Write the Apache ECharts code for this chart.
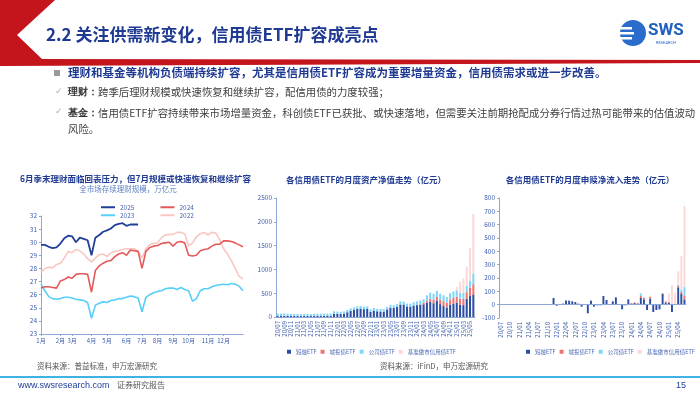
<!DOCTYPE html>
<html>
<head>
<meta charset="utf-8">
<script src="https://cdn.jsdelivr.net/npm/echarts@6/dist/echarts.min.js"></script>
<style>
  html, body { margin: 0; padding: 0; background: #fff; }
  #slide { width: 700px; height: 394px; }
</style>
</head>
<body>
<div id="slide"></div>
<script>
// 左图：全市场存续理财规模（万亿元），按周
var monthNames = ['1月', '2月', '3月', '4月', '5月', '6月', '7月', '8月', '9月', '10月', '11月', '12月']
var monthStartWeek = [0, 5, 8, 13, 17, 22, 26, 30, 34, 38, 43, 47]
var wealth2025 = [29.8, 29.8, 29.65, 29.55, 29.6, 29.9, 30.3, 30.5, 30.45, 30.0, 30.35, 30.25, 30.15, 29.0, 30.35, 30.55, 30.8, 30.9, 31.05, 31.3, 31.4, 31.45, 31.25, 31.35, 31.35, 31.35]
var wealth2024 = [26.5, 26.6, 26.6, 26.55, 26.5, 27.05, 27.15, 27.35, 27.25, 27.55, 27.6, 27.6, 27.55, 26.2, 27.85, 28.2, 28.4, 28.55, 28.6, 28.9, 29.1, 29.2, 29.0, 29.4, 29.35, 29.3, 28.0, 29.3, 29.6, 29.7, 29.75, 29.9, 29.95, 30.0, 29.7, 30.0, 30.05, 29.95, 29.0, 28.95, 29.0, 29.35, 29.45, 29.5, 29.7, 29.85, 29.85, 30.1, 30.1, 30.05, 29.95, 29.8, 29.65]
var wealth2023 = [26.8, 26.3, 25.85, 25.7, 25.65, 25.7, 25.8, 25.8, 25.75, 25.65, 25.6, 25.55, 25.4, 24.2, 25.2, 25.35, 25.45, 25.4, 25.55, 25.6, 25.7, 25.7, 25.8, 25.9, 25.85, 25.75, 24.7, 25.8, 26.0, 26.15, 26.25, 26.3, 26.45, 26.5, 26.5, 26.4, 26.55, 26.4, 26.3, 25.5, 25.7, 26.3, 26.45, 26.45, 26.6, 26.7, 26.75, 26.8, 26.75, 26.85, 26.8, 26.65, 26.3]
var wealth2022 = [27.7, 28.0, 28.1, 28.05, 28.3, 28.4, 28.8, 29.3, 29.2, 29.45, 29.35, 29.1, 28.75, 28.5, 28.8, 29.05, 29.1, 28.9, 29.2, 29.3, 29.35, 29.45, 29.5, 29.5, 29.5, 29.3, 28.8, 29.5, 29.8, 29.9, 29.95, 30.35, 30.55, 30.6, 30.6, 30.75, 30.75, 30.65, 29.7, 29.95, 30.4, 30.65, 30.75, 30.55, 30.75, 30.7, 30.2, 29.5, 29.1, 28.6, 28.0, 27.4, 27.2]

// 中图：各信用债ETF月度资产净值（亿元），20/07-25/06
var navShort = [20, 22, 25, 25, 22, 20, 20, 20, 20, 22, 22, 25, 25, 25, 25, 28, 28, 70, 65, 62, 70, 100, 130, 150, 170, 178, 165, 168, 105, 135, 120, 115, 112, 160, 195, 192, 212, 262, 262, 222, 220, 240, 250, 258, 268, 300, 320, 290, 340, 270, 230, 200, 260, 280, 300, 260, 250, 380, 440, 475]
var navCity = [0, 0, 0, 0, 0, 0, 0, 0, 0, 0, 0, 0, 0, 0, 0, 0, 0, 0, 0, 0, 0, 0, 0, 0, 0, 0, 0, 0, 0, 0, 0, 0, 0, 0, 0, 0, 0, 0, 0, 0, 0, 0, 5, 10, 25, 45, 60, 70, 80, 90, 100, 100, 110, 120, 130, 125, 130, 140, 180, 215]
var navCorp = [50, 50, 48, 45, 45, 45, 42, 42, 42, 42, 43, 43, 45, 45, 45, 45, 45, 50, 48, 48, 48, 48, 50, 52, 55, 55, 55, 55, 55, 55, 52, 52, 52, 52, 55, 55, 58, 65, 62, 60, 60, 70, 75, 80, 80, 110, 130, 130, 130, 130, 125, 120, 130, 135, 130, 120, 125, 130, 140, 225]
var navBench = [0, 0, 0, 0, 0, 0, 0, 0, 0, 0, 0, 0, 0, 0, 0, 0, 0, 0, 0, 0, 0, 0, 0, 0, 0, 0, 0, 0, 0, 0, 0, 0, 0, 0, 0, 0, 0, 0, 0, 0, 0, 0, 0, 0, 0, 0, 0, 0, 0, 0, 0, 0, 0, 0, 70, 235, 305, 406, 683, 1253]

// 右图：各信用债ETF月度申赎净流入（亿元）
var flowShort = [3, 1, 2, -1, 0, 1, 0, 0, 1, 0, 2, 1, 1, 0, 1, 2, 1, 50, -8, -2, 8, 32, 30, 25, 20, 8, -15, 5, -65, 30, -15, -5, -5, 65, 35, 5, 25, 55, 5, -35, -5, 40, 8, 12, 8, 50, 40, -40, 45, -55, -40, -35, 80, 15, 15, -55, 5, 130, 80, 40]
var flowCity = [0, 0, 0, 0, 0, 0, 0, 0, 0, 0, 0, 0, 0, 0, 0, 0, 0, 0, 0, 0, 0, 0, 0, 0, 0, 0, 0, 0, 0, 0, 0, 0, 0, 0, 0, 0, 0, 0, 0, 0, 0, 0, 5, 5, 5, 15, 10, 0, 15, 0, 0, 0, 5, 10, 5, 0, 0, 10, 15, 30]
var flowCorp = [0, 0, 0, 0, 0, 0, 0, 0, 0, 0, 0, 0, 0, 0, 0, 0, 0, 0, 0, 0, 0, 0, 0, 0, 0, 0, 0, 0, 0, 0, 0, 0, 0, 0, 0, 0, 0, 0, 0, 0, 0, 0, 0, 0, 0, 20, 5, 0, 0, 0, 0, 0, 0, 0, 0, 0, 0, 10, 20, 65]
var flowBench = [0, 0, 0, 0, 0, 0, 0, 0, 0, 0, 0, 0, 0, 0, 0, 0, 0, 0, 0, 0, 0, 0, 0, 0, 0, 0, 0, 0, 0, 0, 0, 0, 0, 0, 0, 0, 0, 0, 0, 0, 0, 0, 0, 0, 0, 0, 0, 0, 0, 0, 0, 0, 0, 0, 65, 145, 85, 100, 250, 605]

var etfNames = ['短融ETF', '城投债ETF', '公司债ETF', '基准做市信用债ETF']
var etfColors = ['#2c4ea3', '#ec7474', '#7fd6f7', '#fcd9d9']

// 类目
var weeks = []
for (var w = 0; w <= 52; w++) weeks.push('W' + w)
var monthLabel = {}
monthStartWeek.forEach(function (w, i) { monthLabel[w] = monthNames[i] })
var months = []
for (var y = 2020, m = 7; months.length < 60; m++) {
  if (m > 12) { m = 1; y++ }
  months.push(String(y).slice(2) + '/' + (m < 10 ? '0' + m : m))
}

var blue = '#1f3a93'
var axisBlue = '#3b5bab'
var axisLineColor = '#8fa6d8'
var font = '"Noto Sans CJK SC", "Noto Sans", sans-serif'

var chart = echarts.init(document.getElementById('slide'))

function etfSeries(arrs, xi, yi) {
  return arrs.map(function (arr, i) {
    return {
      name: etfNames[i],
      type: 'bar',
      stack: 'etf' + xi,
      xAxisIndex: xi,
      yAxisIndex: yi,
      barWidth: '62%',
      itemStyle: { color: etfColors[i] },
      data: arr
    }
  })
}

function catAxis(gridIndex, interval) {
  return {
    type: 'category',
    gridIndex: gridIndex,
    data: months,
    axisLine: { lineStyle: { color: axisLineColor } },
    axisTick: { show: false },
    axisLabel: { rotate: 90, interval: interval, fontSize: 6, color: axisBlue, margin: 4 }
  }
}

function valAxis(gridIndex, min, max, interval) {
  return {
    type: 'value',
    gridIndex: gridIndex,
    min: min,
    max: max,
    interval: interval,
    axisLine: { show: true, lineStyle: { color: axisLineColor } },
    axisTick: { show: true, length: 2, lineStyle: { color: axisLineColor } },
    splitLine: { show: false },
    axisLabel: { fontSize: 6.5, color: axisBlue, margin: 4, formatter: function (v) { return String(v) } }
  }
}

var series = [
  { name: '2022', type: 'line', data: wealth2022, color: '#f9c6c2', lineStyle: { width: 1.6 } },
  { name: '2023', type: 'line', data: wealth2023, color: '#57cff6', lineStyle: { width: 1.6 } },
  { name: '2024', type: 'line', data: wealth2024, color: '#e45a5a', lineStyle: { width: 1.6 } },
  { name: '2025', type: 'line', data: wealth2025, color: '#1f3f99', lineStyle: { width: 1.8 } }
].map(function (s) {
  s.xAxisIndex = 0
  s.yAxisIndex = 0
  s.showSymbol = false
  return s
})
series = series.concat(etfSeries([navShort, navCity, navCorp, navBench], 1, 1))
series = series.concat(etfSeries([flowShort, flowCity, flowCorp, flowBench], 2, 2))
// 零轴线
series[series.length - 1].markLine = {
  silent: true,
  symbol: 'none',
  label: { show: false },
  lineStyle: { color: axisLineColor, type: 'solid', width: 1 },
  data: [{ yAxis: 0 }]
}

var etfLegendText = { fontSize: 5.5, color: '#4a66b0' }
var yearLegendText = { fontSize: 6.5, color: '#4a66b0' }

var option = {
  animation: false,
  textStyle: { fontFamily: font },
  grid: [
    { left: 41, top: 216, width: 202, height: 118 },
    { left: 276, top: 198, width: 199, height: 119 },
    { left: 499, top: 198, width: 187, height: 120 }
  ],
  xAxis: [
    {
      type: 'category',
      gridIndex: 0,
      data: weeks,
      boundaryGap: false,
      axisLine: { lineStyle: { color: axisLineColor } },
      axisTick: { show: true, length: 2, interval: function (i) { return monthLabel[i] !== undefined } },
      axisLabel: {
        fontSize: 6,
        color: axisBlue,
        margin: 4,
        interval: function (i) { return monthLabel[i] !== undefined },
        formatter: function (v, i) { return monthLabel[i] || '' }
      }
    },
    catAxis(1, 1),
    catAxis(2, 2)
  ],
  yAxis: [
    valAxis(0, 23, 32, 1),
    valAxis(1, 0, 2500, 500),
    valAxis(2, -100, 800, 100)
  ],
  legend: [
    {
      data: ['2025', '2024'], left: 101, top: 204, itemWidth: 14, itemHeight: 2, itemGap: 26, icon: 'rect',
      padding: 0, textStyle: yearLegendText
    },
    {
      data: ['2023', '2022'], left: 101, top: 212, itemWidth: 14, itemHeight: 2, itemGap: 26, icon: 'rect',
      padding: 0, textStyle: yearLegendText
    },
    {
      data: etfNames, left: 287, top: 349, itemWidth: 4, itemHeight: 4, itemGap: 4, icon: 'rect',
      padding: 0, textStyle: etfLegendText
    },
    {
      data: etfNames, left: 526, top: 349, itemWidth: 4, itemHeight: 4, itemGap: 4, icon: 'rect',
      padding: 0, width: 174, textStyle: etfLegendText
    }
  ],
  graphic: [
    // 页眉
    {
      type: 'polygon',
      shape: { points: [[0, 0], [55, 0], [17, 35], [42, 59], [700, 60], [700, 63], [0, 66]] },
      style: { fill: '#c4141c' }
    },
    {
      type: 'text', left: 46, top: 26,
      style: { text: '2.2 关注供需新变化，信用债ETF扩容成亮点', fontSize: 17, fontWeight: 'bold', fill: blue, fontFamily: font }
    },
    { type: 'circle', shape: { cx: 633, cy: 33, r: 13 }, style: { fill: '#2a6ccb' } },
    { type: 'rect', shape: { x: 620, y: 27, width: 12, height: 2.5 }, style: { fill: '#fff' } },
    { type: 'rect', shape: { x: 620, y: 32, width: 14, height: 2.5 }, style: { fill: '#fff' } },
    { type: 'rect', shape: { x: 620, y: 37, width: 12, height: 2.5 }, style: { fill: '#fff' } },
    {
      type: 'text', left: 648, top: 22,
      style: { text: 'SWS', fontSize: 17, fontWeight: 'bold', fill: '#1f5fbf', fontFamily: 'Roboto, sans-serif' }
    },
    {
      type: 'text', left: 656, top: 41,
      style: { text: 'RESEARCH', fontSize: 4, fill: '#1f5fbf', fontFamily: 'Roboto, sans-serif' }
    },
    // 正文
    { type: 'rect', shape: { x: 54, y: 70, width: 6, height: 6 }, style: { fill: '#9a9a9a' } },
    {
      type: 'text', left: 68, top: 67,
      style: { text: '理财和基金等机构负债端持续扩容，尤其是信用债ETF扩容成为重要增量资金，信用债需求或进一步改善。', fontSize: 11.5, fontWeight: 'bold', fill: blue, fontFamily: font }
    },
    { type: 'text', left: 55, top: 87, style: { text: '✓', fontSize: 9, fill: '#aaaaaa', fontFamily: 'DejaVu Sans' } },
    {
      type: 'text', left: 68, top: 87,
      style: {
        text: '{b|理财：}跨季后理财规模或快速恢复和继续扩容，配信用债的力度较强；',
        fontSize: 10.4, fill: '#404040', fontFamily: font,
        rich: { b: { fontWeight: 'bold', fontSize: 10.4, fill: '#333' } }
      }
    },
    { type: 'text', left: 55, top: 107, style: { text: '✓', fontSize: 9, fill: '#aaaaaa', fontFamily: 'DejaVu Sans' } },
    {
      type: 'text', left: 68, top: 105,
      style: {
        text: '{b|基金：}信用债ETF扩容持续带来市场增量资金，科创债ETF已获批、或快速落地，但需要关注前期抢配成分券行情过热可能带来的估值波动\n风险。',
        fontSize: 10.4, lineHeight: 16, fill: '#404040', fontFamily: font,
        rich: { b: { fontWeight: 'bold', fontSize: 10.4, lineHeight: 16, fill: '#333' } }
      }
    },
    // 图标题
    {
      type: 'text', left: 20, top: 175,
      style: { text: '6月季末理财面临回表压力，但7月规模或快速恢复和继续扩容', fontSize: 8.5, fontWeight: 'bold', fill: blue, fontFamily: font }
    },
    {
      type: 'text', x: 128, y: 189,
      style: { text: '全市场存续理财规模，万亿元', fontSize: 7.5, fill: '#5c7fc4', align: 'center', verticalAlign: 'middle', fontFamily: font }
    },
    {
      type: 'text', x: 366, y: 180,
      style: { text: '各信用债ETF的月度资产净值走势（亿元）', fontSize: 8.5, fontWeight: 'bold', fill: blue, align: 'center', verticalAlign: 'middle', fontFamily: font }
    },
    {
      type: 'text', x: 590, y: 180,
      style: { text: '各信用债ETF的月度申赎净流入走势（亿元）', fontSize: 8.5, fontWeight: 'bold', fill: blue, align: 'center', verticalAlign: 'middle', fontFamily: font }
    },
    // 页脚
    { type: 'text', left: 37, top: 362, style: { text: '资料来源：普益标准，申万宏源研究', fontSize: 7.5, fill: '#555', fontFamily: font } },
    { type: 'text', left: 380, top: 362, style: { text: '资料来源：iFinD，申万宏源研究', fontSize: 7.5, fill: '#555', fontFamily: font } },
    { type: 'rect', shape: { x: 0, y: 376, width: 700, height: 2 }, style: { fill: '#3fb2e6' } },
    { type: 'text', left: 18, top: 381, style: { text: 'www.swsresearch.com', fontSize: 9, fill: '#1f3f99', fontFamily: 'Arial, Liberation Sans, sans-serif' } },
    { type: 'text', left: 117, top: 381, style: { text: '证券研究报告', fontSize: 8, fill: '#555', fontFamily: font } },
    { type: 'text', left: 676, top: 381, style: { text: '15', fontSize: 9, fill: '#1f3f99', fontFamily: 'Arial, Liberation Sans, sans-serif' } }
  ],
  series: series
}

chart.setOption(option)
</script>
</body>
</html>
